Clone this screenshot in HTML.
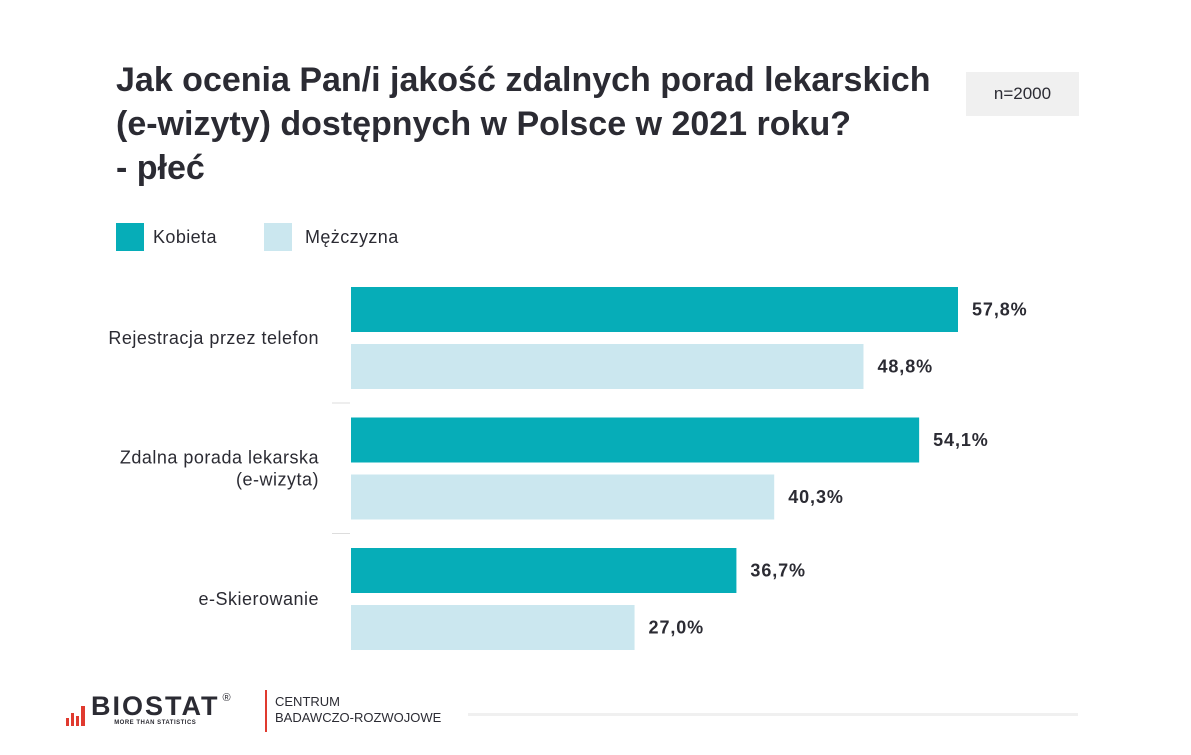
<!DOCTYPE html>
<html><head><meta charset="utf-8"><style>
body{margin:0;width:1191px;height:755px;background:#fff;font-family:"Liberation Sans",sans-serif;position:relative;overflow:hidden;color:#2b2b33}
.abs{position:absolute}
</style></head><body>
<div class="abs" style="left:116px;top:58px;font-size:34px;font-weight:bold;line-height:44px;color:#2b2b33">Jak ocenia Pan/i jakość zdalnych porad lekarskich<br>(e-wizyty) dostępnych w Polsce w 2021 roku?<br>- płeć</div>
<div class="abs" style="left:966px;top:72px;width:113px;height:44px;background:#f0f0f0;font-size:17px;line-height:44px;text-align:center">n=2000</div>
<div class="abs" style="left:116px;top:223px;height:28px;display:flex;align-items:center;font-size:18px;letter-spacing:0.4px"><span style="display:inline-block;width:28px;height:28px;background:#06adb8;margin-right:9px"></span>Kobieta</div>
<div class="abs" style="left:264px;top:223px;height:28px;display:flex;align-items:center;font-size:18px;letter-spacing:0.4px"><span style="display:inline-block;width:28px;height:28px;background:#cbe7ef;margin-right:13px"></span>Mężczyzna</div>
<svg class="abs" style="left:0;top:0" width="1191" height="755" id="chart"></svg>
<div class="abs" style="left:66px;top:692px;display:flex;align-items:flex-end">
<div style="display:flex;align-items:flex-end;gap:2px;margin-right:6px;height:24px"><span style="width:3px;height:8px;background:#e03a2f"></span><span style="width:3px;height:13px;background:#e03a2f"></span><span style="width:3px;height:10px;background:#e03a2f"></span><span style="width:4px;height:20px;background:#e03a2f"></span></div>
<div style="position:relative"><div style="font-size:27px;font-weight:bold;letter-spacing:2px;line-height:28px;color:#2b2b33">BIOSTAT</div><div style="font-size:6px;font-weight:bold;text-align:center;letter-spacing:0.5px">MORE THAN STATISTICS</div></div>
<div style="font-size:11px;align-self:flex-start;margin-left:3px">®</div>
</div>
<div class="abs" style="left:265px;top:690px;width:2px;height:42px;background:#e03a2f"></div>
<div class="abs" style="left:275px;top:694px;font-size:13px;line-height:16px;color:#2b2b33">CENTRUM<br>BADAWCZO-ROZWOJOWE</div>
<div class="abs" style="left:468px;top:713px;width:610px;height:3px;background:#f0f0f0"></div>
<script>
const categories=["Rejestracja przez telefon","Zdalna porada lekarska\n(e-wizyta)","e-Skierowanie"];
const kobieta=[57.8,54.1,36.7];
const mezczyzna=[48.8,40.3,27.0];
const svg=document.getElementById('chart');const NS='http://www.w3.org/2000/svg';
const x0=351,scale=607/57.8,top0=287,groupH=130.5,barH=45,gap=57;
const xs=v=>v*scale;
function mk(t,a){const e=document.createElementNS(NS,t);for(const k in a)e.setAttribute(k,a[k]);svg.appendChild(e);return e;}
categories.forEach((c,i)=>{
 const gy=top0+i*groupH;
 [[kobieta,'#06adb8','kobieta'],[mezczyzna,'#cbe7ef','mezczyzna']].forEach((s,j)=>{
  const v=s[0][i],y=gy+j*gap;
  const r=mk('rect',{x:x0,y:y,width:xs(v),height:barH,fill:s[1]});
  
  
  const t=mk('text',{x:x0+xs(v)+14,y:y+barH/2+6,'font-size':18,'letter-spacing':0.9,'font-weight':'bold',fill:'#2b2b33','font-family':'Liberation Sans, sans-serif'});
  t.textContent=v.toFixed(1).replace('.',',')+'%';
  
  
 });
 const lines=c.split('\n');const cy=gy+(gap+barH)/2;
 lines.forEach((l,k)=>{
  const t=mk('text',{x:319,y:cy+6+(k-(lines.length-1)/2)*22,'text-anchor':'end','font-size':18,'letter-spacing':0.5,fill:'#2b2b33','font-family':'Liberation Sans, sans-serif'});
  t.textContent=l;
  
  
 });
 if(i<categories.length-1){const sep=mk('line',{x1:332,x2:350,y1:gy+116,y2:gy+116,stroke:'#ddd','stroke-width':1});
  
  }
});
</script>
</body></html>
